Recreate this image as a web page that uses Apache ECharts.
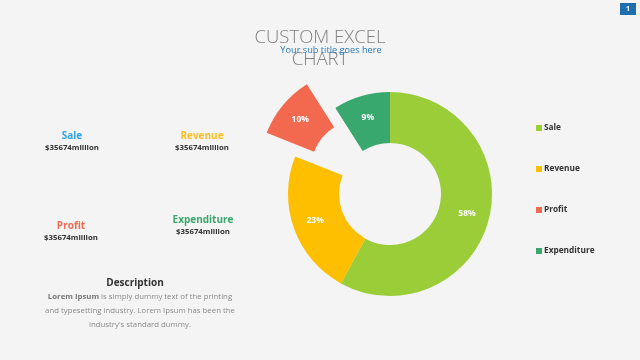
<!DOCTYPE html>
<html><head><meta charset="utf-8">
<script src="https://cdn.jsdelivr.net/npm/echarts@6/dist/echarts.min.js"></script>
<style>html,body{margin:0;padding:0;background:#f4f4f4}#c{width:640px;height:360px}</style>
</head><body><div id="c"></div>
<script>
const categories = ['Sale', 'Revenue', 'Profit', 'Expenditure'];
const shares = [58, 23, 10, 9];
const amounts = ['$35674million', '$35674million', '$35674million', '$35674million'];
const colors = ['#9acd38', '#fdbf00', '#f3694f', '#38a86f'];
const exploded = 'Profit';

const chart = echarts.init(document.getElementById('c'));
const font = '"Open Sans", "Noto Sans", sans-serif';
const blocks = [
  {x: 72, y: 136, color: '#2da4e8', vy: 148},
  {x: 202, y: 136, color: '#fbbf24', vy: 148},
  {x: 71, y: 226, color: '#f26b50', vy: 238},
  {x: 203, y: 220, color: '#3aa66c', vy: 232}
];
const graphic = [];
categories.forEach((c, i) => {
  const b = blocks[i];
  graphic.push({type: 'text', x: b.x, y: b.y, style: {text: c, fill: b.color, font: 'bold 10px ' + font, align: 'center', verticalAlign: 'middle'}});
  graphic.push({type: 'text', x: b.x, y: b.vy, style: {text: amounts[i], fill: '#333', font: 'bold 7.8px ' + font, align: 'center', verticalAlign: 'middle'}});
});
const bodyFont = '7.8px ' + font;
graphic.push({type: 'text', x: 135, y: 283, style: {text: 'Description', fill: '#333', font: 'bold 10px ' + font, align: 'center', verticalAlign: 'middle'}});
graphic.push({type: 'text', x: 140, y: 297, style: {
  text: '{b|Lorem Ipsum}{n| is simply dummy text of the printing}', align: 'center', verticalAlign: 'middle',
  rich: {
    b: {fontWeight: 'bold', fill: '#777', fontSize: 7.8, fontFamily: font},
    n: {fill: '#8a8a8a', fontSize: 7.8, fontFamily: font}
  }}});
graphic.push({type: 'text', x: 140, y: 311, style: {text: 'and typesetting industry. Lorem Ipsum has been the', fill: '#8a8a8a', font: bodyFont, align: 'center', verticalAlign: 'middle'}});
graphic.push({type: 'text', x: 140, y: 325, style: {text: "industry's standard dummy.", fill: '#8a8a8a', font: bodyFont, align: 'center', verticalAlign: 'middle'}});
// title
graphic.push({type: 'text', x: 320, y: 38, style: {text: 'CUSTOM EXCEL', fill: '#808080', font: '300 18.5px "Open Sans", Lato, sans-serif', align: 'center', verticalAlign: 'middle'}});
graphic.push({type: 'text', x: 320, y: 60, style: {text: 'CHART', fill: '#808080', font: '300 18.5px "Open Sans", Lato, sans-serif', align: 'center', verticalAlign: 'middle'}});
graphic.push({type: 'text', x: 331, y: 50, style: {text: 'Your sub title goes here', fill: '#2a7ab8', font: '9.2px ' + font, align: 'center', verticalAlign: 'middle'}});
// page badge
graphic.push({type: 'rect', shape: {x: 620, y: 3, width: 16, height: 12}, style: {fill: '#1f6fae'}});
graphic.push({type: 'text', x: 628, y: 9, style: {text: '1', fill: '#fff', font: 'bold 7px ' + font, align: 'center', verticalAlign: 'middle'}});

chart.setOption({
  backgroundColor: '#f4f4f4',
  animation: false,
  color: colors,
  legend: {
    orient: 'vertical', left: 536, top: 124, itemGap: 33, padding: 0,
    icon: 'rect', itemWidth: 6, itemHeight: 6,
    textStyle: {color: '#333', fontWeight: 'bold', fontSize: 8.3, fontFamily: font, padding: [0, 0, 0, -3]},
    selectedMode: false,
    data: categories
  },
  graphic: graphic,
  series: [{
    type: 'pie',
    center: [390, 194],
    radius: [51, 102],
    startAngle: 90,
    clockwise: true,
    selectedMode: 'single',
    selectedOffset: 37,
    label: {show: true, position: 'inside', formatter: '{c}%', color: '#fff', fontWeight: 'bold', fontSize: 8.5, fontFamily: font},
    labelLine: {show: false},
    emphasis: {disabled: true},
    data: categories.map((c, i) => ({name: c, value: shares[i], selected: c === exploded}))
  }]
});
</script></body></html>
